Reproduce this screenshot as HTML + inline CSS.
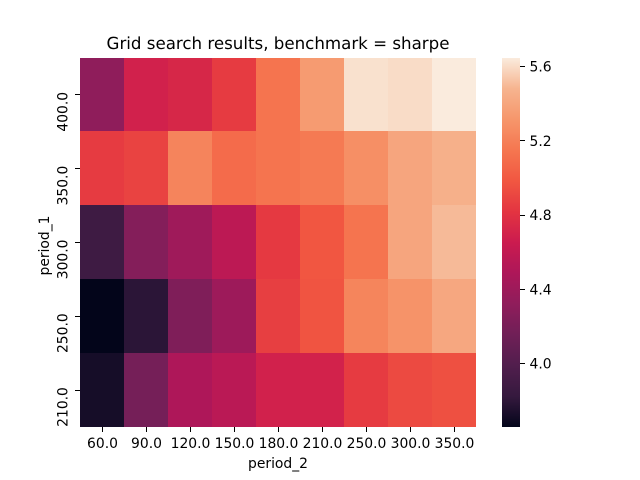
<!DOCTYPE html>
<html>
<head>
<meta charset="utf-8">
<title>Grid search results</title>
<style>
html,body{margin:0;padding:0;background:#fff;width:640px;height:480px;overflow:hidden}
svg{display:block}
text{font-family:"DejaVu Sans",sans-serif;fill:#000;font-size:13.89px}
</style>
</head>
<body>
<svg id="chart" width="640" height="480" viewBox="0 0 640 480" xmlns="http://www.w3.org/2000/svg" shape-rendering="crispEdges">
<text x="278" y="49" text-anchor="middle" style="font-size:16.67px" text-rendering="geometricPrecision">Grid search results, benchmark = sharpe</text>
<text x="278" y="468" text-anchor="middle">period_2</text>
<text x="0" y="0" text-anchor="middle" transform="translate(49,245.5) rotate(-90)">period_1</text>
<g id="cells"></g>
<g id="xticks"></g>
<g id="yticks"></g>
<g id="cbar"></g>
<g id="cticks"></g>
</svg>
<script>
const xCategories = ['60.0','90.0','120.0','150.0','180.0','210.0','250.0','300.0','350.0'];
const yCategories = ['400.0','350.0','300.0','250.0','210.0'];
const row400 = [4.32,4.69,4.73,4.85,5.14,5.34,5.615,5.60,5.646];
const row350 = [4.85,4.89,5.22,5.09,5.14,5.17,5.28,5.40,5.46];
const row300 = [3.876,4.26,4.41,4.57,4.84,4.98,5.14,5.40,5.50];
const row250 = [3.658,3.79,4.235,4.40,4.87,4.97,5.225,5.30,5.41];
const row210 = [3.72,4.18,4.49,4.56,4.69,4.70,4.85,4.92,4.95];
const colorbarTicks = [4.0,4.4,4.8,5.2,5.6];
const valueMin = 3.658;
const valueMax = 5.646;

const NS = 'http://www.w3.org/2000/svg';
const plot = {left:80,right:476,top:58,bottom:427};
const bar = {left:502,right:520,top:58,bottom:427};
const rocket = [[0,3,5,26],[0.083,53,25,62],[0.167,81,30,77],[0.25,112,31,87],[0.333,143,29,91],[0.417,173,23,89],[0.5,203,27,79],[0.583,227,52,65],[0.667,241,87,65],[0.75,245,118,80],[0.833,246,150,107],[0.917,246,180,143],[1,250,235,221]];
function cmap(t){
  t = Math.max(0,Math.min(1,t));
  for(let i=1;i<rocket.length;i++){
    if(t<=rocket[i][0]){
      const a=rocket[i-1],b=rocket[i],f=(t-a[0])/(b[0]-a[0]);
      return 'rgb('+[1,2,3].map(k=>Math.round(a[k]+(b[k]-a[k])*f)).join(',')+')';
    }
  }
  return 'rgb(250,235,221)';
}
function norm(v){return (v-valueMin)/(valueMax-valueMin);}
function xScale(i){return plot.left+(plot.right-plot.left)*i/xCategories.length;}
function yScale(i){return plot.top+(plot.bottom-plot.top)*i/yCategories.length;}
function cScale(v){return bar.bottom-(bar.bottom-bar.top)*norm(v);}
function mk(tag,attrs,parent){
  const el=document.createElementNS(NS,tag);
  for(const k in attrs){el.setAttribute(k,attrs[k]);}
  parent.appendChild(el);
  return el;
}
const rows = [row400,row350,row300,row250,row210];
const cellsG=document.getElementById('cells');
rows.forEach((row,r)=>{
  row.forEach((v,c)=>{
    const x0=Math.round(xScale(c)),x1=Math.round(xScale(c+1));
    const y0=Math.floor(yScale(r)),y1=Math.floor(yScale(r+1));
    const cell=mk('rect',{x:x0,y:y0,width:x1-x0,height:y1-y0,fill:cmap(norm(v))},cellsG);
    
    
  });
});
const xG=document.getElementById('xticks');
xCategories.forEach((lab,i)=>{
  const x=Math.round(xScale(i+0.5));
  const tick=mk('rect',{x:x,y:plot.bottom,width:1,height:5,fill:'#000'},xG);
  
  
  const t=mk('text',{x:xScale(i+0.5)+0.5,y:448,'text-anchor':'middle'},xG);
  t.textContent=lab;
  
  
});
const yG=document.getElementById('yticks');
yCategories.forEach((lab,i)=>{
  const yc=yScale(i+0.5);
  const tick=mk('rect',{x:plot.left-5,y:Math.floor(yc),width:5,height:1,fill:'#000'},yG);
  
  
  const t=mk('text',{x:0,y:0,'text-anchor':'end',transform:'translate(67.5,'+(yc-3)+') rotate(-90)'},yG);
  t.textContent=lab;
  
  
});
const cG=document.getElementById('cbar');
for(let y=bar.top;y<bar.bottom;y++){
  const v=valueMax-(y+0.5-bar.top)/(bar.bottom-bar.top)*(valueMax-valueMin);
  const seg=mk('rect',{x:bar.left,y:y,width:bar.right-bar.left,height:1,fill:cmap(norm(v))},cG);
  
  
}
const ctG=document.getElementById('cticks');
colorbarTicks.forEach(v=>{
  const y=cScale(v);
  const tick=mk('rect',{x:bar.right,y:Math.floor(y),width:5,height:1,fill:'#000'},ctG);
  
  
  const t=mk('text',{x:529.5,y:y+5},ctG);
  t.textContent=v.toFixed(1);
  
  
});
</script>
</body>
</html>
